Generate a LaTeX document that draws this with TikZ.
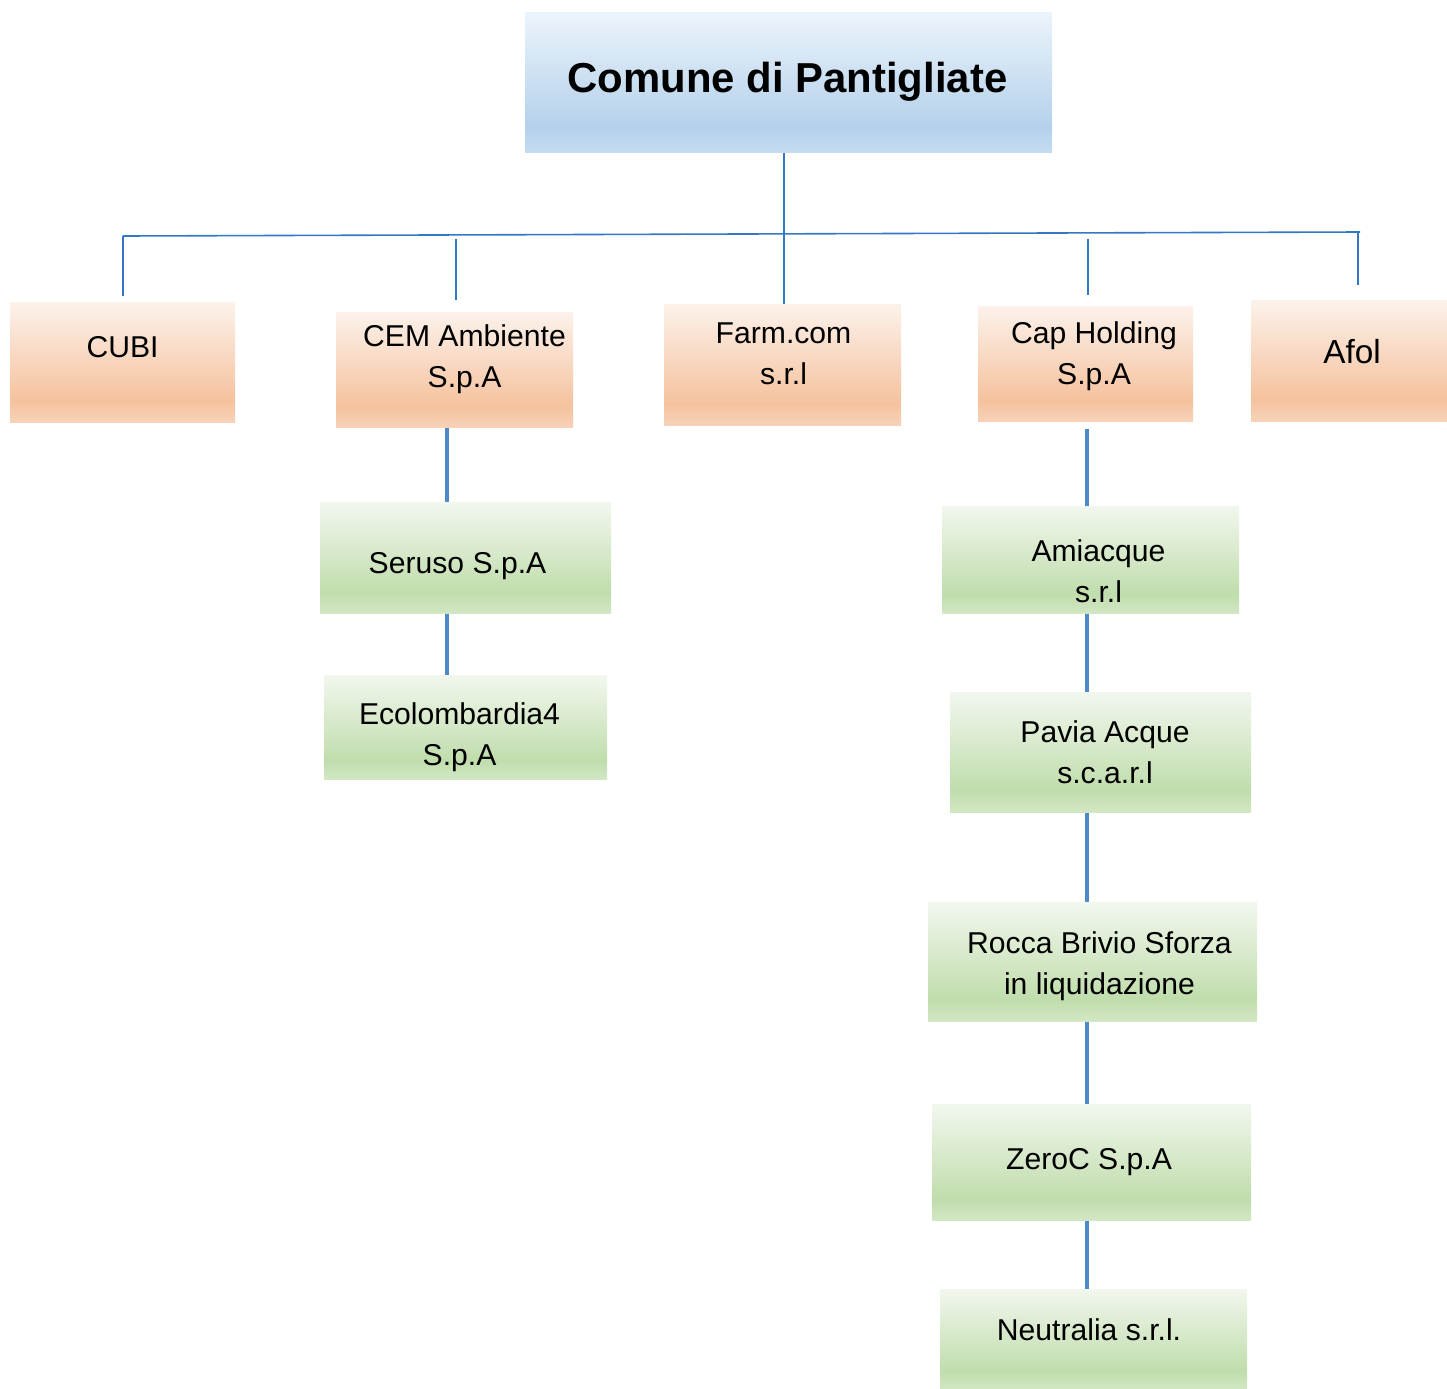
\documentclass[tikz,border=0pt]{standalone}
\usepackage{fontspec}
\setmainfont{Liberation Sans}
\definecolor{ortop}{RGB}{252,242,235}
\definecolor{orsat}{RGB}{245,194,158}
\definecolor{orlow}{RGB}{247,210,184}
\definecolor{bltop}{RGB}{236,244,251}
\definecolor{blsat}{RGB}{180,209,235}
\definecolor{bllow}{RGB}{196,219,240}
\definecolor{grtop}{RGB}{242,247,238}
\definecolor{grsat}{RGB}{192,221,172}
\definecolor{grlow}{RGB}{210,231,196}
\definecolor{barline}{RGB}{52,120,196}
\definecolor{legline}{RGB}{79,138,200}
\pgfdeclareverticalshading{orangefill}{100bp}{color(0bp)=(orlow); color(25bp)=(orlow); color(34bp)=(orsat); color(75bp)=(ortop); color(100bp)=(ortop)}
\pgfdeclareverticalshading{bluefill}{100bp}{color(0bp)=(bllow); color(25bp)=(bllow); color(34bp)=(blsat); color(75bp)=(bltop); color(100bp)=(bltop)}
\pgfdeclareverticalshading{greenfill}{100bp}{color(0bp)=(grlow); color(25bp)=(grlow); color(34bp)=(grsat); color(75bp)=(grtop); color(100bp)=(grtop)}
\tikzset{every picture/.style={line width=0.75pt}}
\tikzset{
  orgbox/.style={rectangle, inner sep=0pt, draw=none},
  every label/.style={align=center, inner sep=0.75pt, font=\fontsize{22.6}{30.75}\selectfont},
  bar/.style={draw=barline, line width=1.2pt},
  leg/.style={draw=legline, line width=2.4pt}
}

\begin{document}
\begin{tikzpicture}[x=0.75pt,y=0.75pt,yscale=-1,xscale=1]
\path[use as bounding box] (0,0) rectangle (1447,1389);

%Shape: Rectangle [Comune]
\node (comune) [orgbox, shading=bluefill, minimum width=527*0.75pt, minimum height=140*0.75pt,
  label={[shift={(-1,0)}, font=\fontsize{31.4}{36}\selectfont\bfseries]center:{Comune di Pantigliate}}] at (788.5,82) {};

%Shape: Rectangle [first level]
\node (cubi) [orgbox, shading=orangefill, minimum width=225*0.75pt, minimum height=120*0.75pt,
  label={[shift={(0,15)}]center:{CUBI}}] at (122.5,362) {};
\node (cem) [orgbox, shading=orangefill, minimum width=237*0.75pt, minimum height=115*0.75pt,
  label={[shift={(10,10)}]center:{CEM Ambiente\\S.p.A}}] at (454.5,369.5) {};
\node (farm) [orgbox, shading=orangefill, minimum width=237*0.75pt, minimum height=121*0.75pt,
  label={[shift={(1,11)}]center:{Farm.com\\s.r.l}}] at (782.5,364.5) {};
\node (cap) [orgbox, shading=orangefill, minimum width=215*0.75pt, minimum height=115*0.75pt,
  label={[shift={(8.5,7.5)}]center:{Cap Holding\\S.p.A}}] at (1085.5,363.5) {};
\node (afol) [orgbox, shading=orangefill, minimum width=196*0.75pt, minimum height=121*0.75pt,
  label={[shift={(3,8.5)}, font=\fontsize{25}{30}\selectfont]center:{Afol}}] at (1349,360.5) {};

%Shape: Rectangle [CEM branch]
\node (seruso) [orgbox, shading=greenfill, minimum width=291*0.75pt, minimum height=111*0.75pt,
  label={[shift={(-8,-9)}]center:{Seruso S.p.A}}] at (465.5,557.5) {};
\node (ecolomb) [orgbox, shading=greenfill, minimum width=283*0.75pt, minimum height=104*0.75pt,
  label={[shift={(-6,-10)}]center:{Ecolombardia4\\S.p.A}}] at (465.5,727) {};

%Shape: Rectangle [Cap branch]
\node (amiacque) [orgbox, shading=greenfill, minimum width=297*0.75pt, minimum height=107*0.75pt,
  label={[shift={(8,-12)}]center:{Amiacque\\s.r.l}}] at (1090.5,559.5) {};
\node (pavia) [orgbox, shading=greenfill, minimum width=301*0.75pt, minimum height=120*0.75pt,
  label={[shift={(4.5,0)}]center:{Pavia Acque\\s.c.a.r.l}}] at (1100.5,752) {};
\node (rocca) [orgbox, shading=greenfill, minimum width=329*0.75pt, minimum height=119*0.75pt,
  label={[shift={(7,-5)}]center:{Rocca Brivio Sforza\\in liquidazione}}] at (1092.5,961.5) {};
\node (zeroc) [orgbox, shading=greenfill, minimum width=319*0.75pt, minimum height=116*0.75pt,
  label={[shift={(-2.5,0)}]center:{ZeroC S.p.A}}] at (1091.5,1162) {};
\node (neutralia) [orgbox, shading=greenfill, minimum width=307*0.75pt, minimum height=100*0.75pt,
  label={[shift={(-4.5,9)}]center:{Neutralia s.r.l.}}] at (1093.5,1339) {};

% Connector points
\coordinate (barL) at (123,236);
\coordinate (barR) at (1360,232);
\coordinate (trunk) at (784,0);
\coordinate (cemtop) at (456,239);
\coordinate (captop) at (1088,239);
\coordinate (afoltop) at (1358,232);
\coordinate (leftleg) at (447,0);
\coordinate (rightleg) at (1087,0);

%Straight Lines [bar]
\draw [bar] (barL) -- (barR) ;
\draw [bar] (comune.south -| trunk) -- (farm.north -| trunk) ;
\draw [bar, shorten >=6*0.75pt] (barL) -- (barL |- cubi.north) ;
\draw [bar, shorten >=12*0.75pt] (cemtop) -- (cemtop |- cem.north) ;
\draw [bar, shorten >=11*0.75pt] (captop) -- (captop |- cap.north) ;
\draw [bar, shorten >=15*0.75pt] (afoltop) -- (afoltop |- afol.north) ;

%Straight Lines [legs]
\draw [leg] (cem.south -| leftleg) -- (seruso.north -| leftleg) ;
\draw [leg] (seruso.south -| leftleg) -- (ecolomb.north -| leftleg) ;
\draw [leg, shorten <=7*0.75pt] (cap.south -| rightleg) -- (amiacque.north -| rightleg) ;
\draw [leg] (amiacque.south -| rightleg) -- (pavia.north -| rightleg) ;
\draw [leg] (pavia.south -| rightleg) -- (rocca.north -| rightleg) ;
\draw [leg] (rocca.south -| rightleg) -- (zeroc.north -| rightleg) ;
\draw [leg] (zeroc.south -| rightleg) -- (neutralia.north -| rightleg) ;

\end{tikzpicture}
\end{document}
